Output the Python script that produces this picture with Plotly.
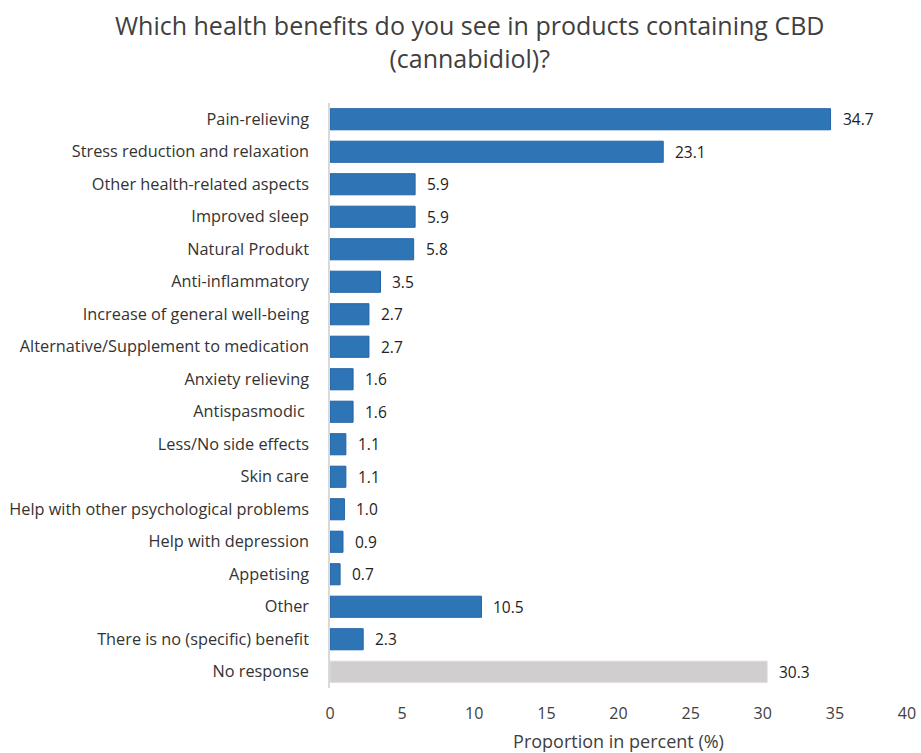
import plotly.graph_objects as go

categories = [
    "Pain-relieving",
    "Stress reduction and relaxation",
    "Other health-related aspects",
    "Improved sleep",
    "Natural Produkt",
    "Anti-inflammatory",
    "Increase of general well-being",
    "Alternative/Supplement to medication",
    "Anxiety relieving",
    "Antispasmodic ",
    "Less/No side effects",
    "Skin care",
    "Help with other psychological problems",
    "Help with depression",
    "Appetising",
    "Other",
    "There is no (specific) benefit",
    "No response",
]
values = [34.7, 23.1, 5.9, 5.9, 5.8, 3.5, 2.7, 2.7, 1.6, 1.6, 1.1, 1.1, 1.0, 0.9, 0.7, 10.5, 2.3, 30.3]

blue = "#2E75B6"
grey = "#D0CECE"
fill = [grey if c == "No response" else blue for c in categories]
edge = ["#DADADA" if c == "No response" else "#2463A8" for c in categories]

font = "Open Sans, Segoe UI, Calibri, sans-serif"

W, H = 921, 753
ML, MR, MT, MB = 330, 14, 103, 65

fig = go.Figure(
    go.Bar(
        x=values,
        y=categories,
        orientation="h",
        marker=dict(color=fill, line=dict(color=edge, width=1)),
        width=0.65,
        hoverinfo="x+y",
    )
)

# value labels placed just right of each bar end
for c, v in zip(categories, values):
    fig.add_annotation(
        x=v, y=c, xref="x", yref="y",
        text=f"{v:.1f}",
        showarrow=False,
        xanchor="left", yanchor="middle",
        xshift=10,
        font=dict(size=15.5, color="#222222", family=font),
    )

# two-line chart title, centred over the whole figure area
plot_centre = ML + (W - ML - MR) / 2
fig.add_annotation(
    x=0.5, y=1.0, xref="paper", yref="paper",
    text="Which health benefits do you see in products containing CBD<br>(cannabidiol)?",
    showarrow=False,
    xanchor="center", yanchor="bottom",
    xshift=469 - plot_centre,
    yshift=26,
    font=dict(size=25, color="#404040", family=font),
)

fig.update_layout(
    width=W,
    height=H,
    margin=dict(l=ML, r=MR, t=MT, b=MB),
    paper_bgcolor="white",
    plot_bgcolor="white",
    showlegend=False,
    font=dict(family=font, color="#404040"),
)

fig.update_xaxes(
    range=[0, 40],
    tickvals=[0, 5, 10, 15, 20, 25, 30, 35, 40],
    tickfont=dict(size=16, color="#404040"),
    showgrid=False,
    zeroline=False,
    showline=False,
    ticks="",
    ticklabelstandoff=14,
    automargin=False,
    title=dict(text="Proportion in percent (%)", font=dict(size=18, color="#404040"), standoff=12),
)

fig.update_yaxes(
    autorange="reversed",
    tickfont=dict(size=16.3, color="#333333"),
    showgrid=False,
    showline=True,
    linecolor="#D9D9D9",
    linewidth=1.5,
    ticks="",
    ticklabelstandoff=16,
    automargin=False,
)

fig.write_html("out.html")
